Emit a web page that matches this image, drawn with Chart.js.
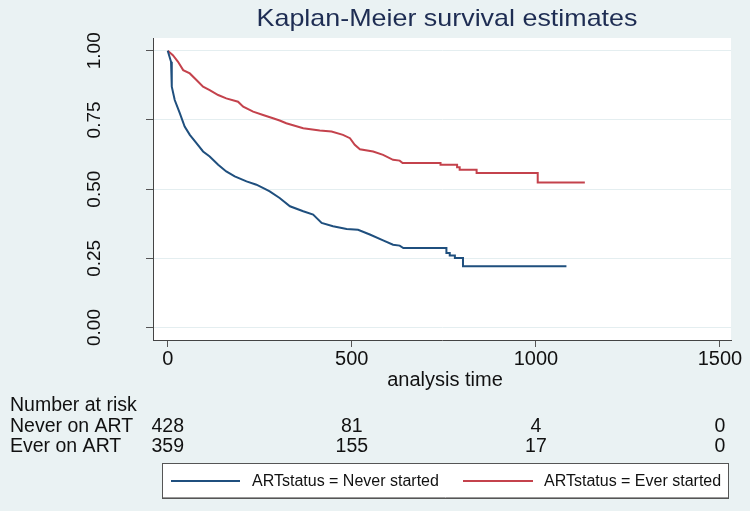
<!DOCTYPE html>
<html>
<head>
<meta charset="utf-8">
<script src="https://cdn.jsdelivr.net/npm/chart.js@4.4.0/dist/chart.umd.min.js"></script>
<style>
  html, body { margin: 0; padding: 0; background: #eaf2f3; }
  #wrap { width: 750px; height: 511px; }
</style>
</head>
<body>
<div id="wrap"><canvas id="kmChart" width="750" height="511"></canvas></div>
<script>
// Kaplan-Meier curves (time, survival)
const neverTimes = [0, 9, 11, 19, 33, 46, 60, 78, 96, 114, 137, 159, 182, 214, 241, 268, 277, 304, 332, 368, 395, 418, 449, 486, 517, 549, 585, 612, 630, 640, 757, 757, 766, 766, 780, 780, 802, 802, 1083];
const neverSurv  = [1.0, 0.96, 0.87, 0.822, 0.774, 0.726, 0.696, 0.666, 0.636, 0.618, 0.588, 0.564, 0.546, 0.528, 0.516, 0.498, 0.492, 0.468, 0.438, 0.420, 0.408, 0.378, 0.366, 0.356, 0.353, 0.336, 0.315, 0.299, 0.296, 0.287, 0.287, 0.269, 0.269, 0.260, 0.260, 0.251, 0.251, 0.221, 0.221];

const everTimes = [0, 14, 28, 42, 60, 78, 96, 114, 137, 159, 191, 205, 232, 259, 286, 304, 322, 368, 413, 445, 476, 495, 508, 522, 558, 585, 612, 630, 638, 741, 741, 786, 786, 793, 793, 839, 839, 1005, 1005, 1133];
const everSurv  = [1.0, 0.984, 0.960, 0.930, 0.918, 0.894, 0.870, 0.858, 0.840, 0.828, 0.816, 0.798, 0.780, 0.768, 0.756, 0.748, 0.738, 0.720, 0.712, 0.708, 0.696, 0.684, 0.660, 0.644, 0.636, 0.624, 0.606, 0.603, 0.594, 0.594, 0.588, 0.588, 0.579, 0.579, 0.570, 0.570, 0.558, 0.558, 0.524, 0.524];

// axis ticks and number-at-risk table
const xTicks = [0, 500, 1000, 1500];
const yTicks = [0, 0.25, 0.5, 0.75, 1];
const yTickLabels = ["0.00", "0.25", "0.50", "0.75", "1.00"];
const riskGroups = ["Never on ART", "Ever on ART"];
const neverAtRisk = [428, 81, 4, 0];
const everAtRisk = [359, 155, 17, 0];
const legendLabels = ["ARTstatus = Never started", "ARTstatus = Ever started"];

const BLUE = "#1f4f7e";
const RED = "#c4424c";
const FONT = "'Liberation Sans', Arial, sans-serif";

function toPoints(ts, ss){
  return ts.map((t, i) => ({ x: t, y: ss[i] }));
}

// backgrounds + the extra Stata-style text
const stataDecor = {
  id: "stataDecor",
  beforeDraw(chart){
    const { ctx, chartArea: a } = chart;
    ctx.save();
    ctx.fillStyle = "#eaf2f3";
    ctx.fillRect(0, 0, chart.width, chart.height);
    ctx.fillStyle = "#ffffff";
    ctx.fillRect(a.left, a.top, a.right - a.left, a.bottom - a.top);
    ctx.restore();
  },
  afterDraw(chart){
    const { ctx, chartArea: a } = chart;
    const xs = chart.scales.x, ys = chart.scales.y;
    ctx.save();

    // title (stata's font runs a bit wide)
    ctx.save();
    ctx.fillStyle = "#1e2d53";
    ctx.font = "24px " + FONT;
    ctx.textAlign = "center";
    ctx.textBaseline = "middle";
    ctx.translate(447, 19);
    ctx.scale(1.12, 1);
    ctx.fillText("Kaplan-Meier survival estimates", 0, 0);
    ctx.restore();

    ctx.textAlign = "center";
    ctx.textBaseline = "middle";

    // y tick labels, rotated
    ctx.fillStyle = "#111";
    ctx.font = "19px " + FONT;
    yTicks.forEach((v, i) => {
      ctx.save();
      ctx.translate(95, ys.getPixelForValue(v));
      ctx.rotate(-Math.PI / 2);
      ctx.fillText(yTickLabels[i], 0, 0);
      ctx.restore();
    });

    // x axis title
    ctx.font = "20px " + FONT;
    ctx.fillText("analysis time", (a.left + a.right) / 2 + 3, 380);

    // number at risk
    ctx.font = "19.5px " + FONT;
    ctx.textAlign = "left";
    ctx.fillText("Number at risk", 10, 406);
    ctx.fillText(riskGroups[0], 10, 427);
    ctx.fillText(riskGroups[1], 10, 447);
    ctx.textAlign = "center";
    xTicks.forEach((t, i) => {
      const px = xs.getPixelForValue(t);
      ctx.fillText(String(neverAtRisk[i]), px, 427);
      ctx.fillText(String(everAtRisk[i]), px, 447);
    });

    // legend box
    ctx.fillStyle = "#ffffff";
    ctx.fillRect(162, 463, 566, 35);
    ctx.strokeStyle = "#555";
    ctx.lineWidth = 1;
    ctx.strokeRect(162.5, 463.5, 566, 35);
    ctx.strokeStyle = "#999";
    ctx.beginPath();
    ctx.moveTo(163, 497.5); ctx.lineTo(728, 497.5);
    ctx.stroke();

    ctx.lineWidth = 2;
    ctx.strokeStyle = BLUE;
    ctx.beginPath(); ctx.moveTo(171, 481); ctx.lineTo(240, 481); ctx.stroke();
    ctx.strokeStyle = RED;
    ctx.beginPath(); ctx.moveTo(463, 481); ctx.lineTo(533, 481); ctx.stroke();

    ctx.fillStyle = "#111";
    ctx.font = "16px " + FONT;
    ctx.textAlign = "left";
    ctx.fillText(legendLabels[0], 252, 482);
    ctx.fillText(legendLabels[1], 544, 482);

    ctx.restore();
  }
};

const ctx = document.getElementById("kmChart").getContext("2d");
new Chart(ctx, {
  type: "line",
  data: {
    datasets: [
      {
        label: legendLabels[0],
        data: toPoints(neverTimes, neverSurv),
        borderColor: BLUE,
        borderWidth: 2,
        pointRadius: 0,
        tension: 0,
        fill: false
      },
      {
        label: legendLabels[1],
        data: toPoints(everTimes, everSurv),
        borderColor: RED,
        borderWidth: 2,
        pointRadius: 0,
        tension: 0,
        fill: false
      }
    ]
  },
  options: {
    responsive: false,
    animation: false,
    layout: { padding: { top: 38, right: 19, left: 0, bottom: 0 } },
    plugins: {
      legend: { display: false },
      title: { display: false },
      tooltip: { enabled: false }
    },
    scales: {
      x: {
        type: "linear",
        min: -40,
        max: 1530,
        afterBuildTicks: s => { s.ticks = xTicks.map(v => ({ value: v })); },
        afterFit: s => { s.height = 171; },
        grid: { drawOnChartArea: false, drawTicks: true, tickLength: 7, tickColor: "#555" },
        border: { display: true, color: "#444", width: 1 },
        ticks: {
          color: "#111",
          font: { family: FONT, size: 20 },
          padding: 0,
          maxRotation: 0,
          callback: v => String(v)
        }
      },
      y: {
        type: "linear",
        min: -0.045,
        max: 1.046,
        afterBuildTicks: s => { s.ticks = yTicks.map(v => ({ value: v })); },
        afterFit: s => { s.width = 153; },
        grid: { color: "#e4eef0", lineWidth: 1, drawTicks: true, tickLength: 7, tickColor: "#555" },
        border: { display: true, color: "#444", width: 1 },
        ticks: { display: false }
      }
    }
  },
  plugins: [stataDecor]
});
</script>
</body>
</html>
